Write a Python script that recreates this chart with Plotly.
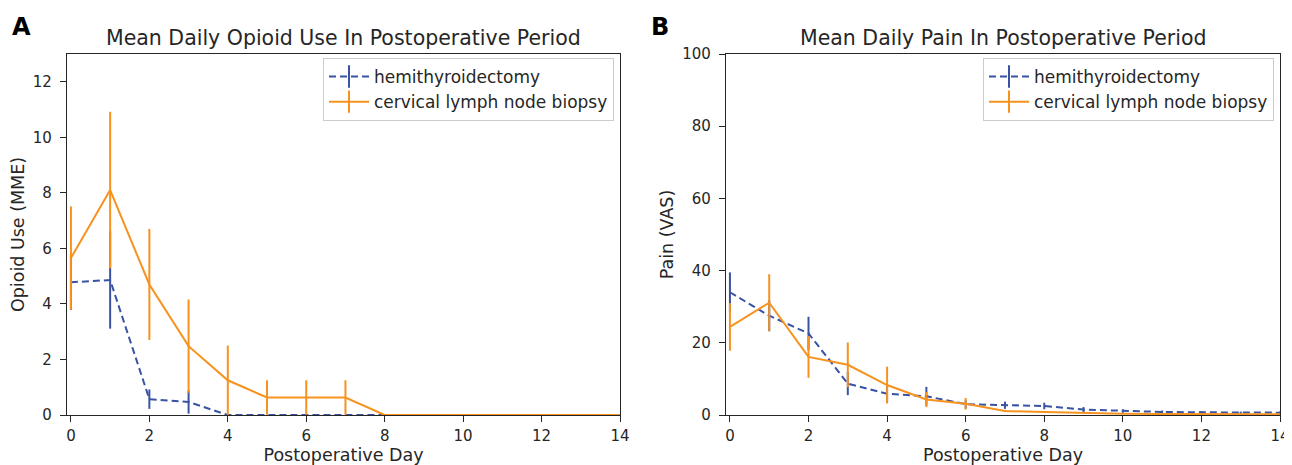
import plotly.graph_objects as go

# ---------------- data ----------------
days = list(range(0, 15))

opioid_hemi = [4.78, 4.86, 0.57, 0.47, 0, 0, 0, 0, 0, 0, 0, 0, 0, 0, 0]
opioid_hemi_err = [1.0, 1.75, 0.35, 0.42, 0, 0, 0, 0, 0, 0, 0, 0, 0, 0, 0]
opioid_cln = [5.65, 8.1, 4.7, 2.48, 1.25, 0.63, 0.63, 0.63, 0, 0, 0, 0, 0, 0, 0]
opioid_cln_err = [1.86, 2.82, 2.0, 1.68, 1.25, 0.62, 0.62, 0.62, 0, 0, 0, 0, 0, 0, 0]

pain_hemi = [34.0, 27.5, 22.6, 8.7, 5.9, 5.2, 3.0, 2.7, 2.5, 1.5, 1.1, 0.85, 0.75, 0.65, 0.65]
pain_hemi_err = [5.5, 4.3, 4.6, 3.2, 2.5, 2.6, 1.2, 1.0, 0.9, 0.7, 0.5, 0.4, 0.3, 0.3, 0.3]
pain_cln = [24.4, 31.1, 16.1, 13.9, 8.3, 4.3, 3.1, 1.1, 0.8, 0.5, 0.35, 0.3, 0.25, 0.2, 0.2]
pain_cln_err = [6.6, 7.9, 5.8, 6.2, 5.1, 2.1, 1.6, 0.3, 0.2, 0.1, 0.1, 0.1, 0.1, 0.1, 0.1]

series_names = ["hemithyroidectomy", "cervical lymph node biopsy"]
titles = ["Mean Daily Opioid Use In Postoperative Period", "Mean Daily Pain In Postoperative Period"]
x_label = "Postoperative Day"
y_labels = ["Opioid Use (MME)", "Pain (VAS)"]
panel_letters = ["A", "B"]

# ---------------- styling ----------------
OFF = 8                      # page body margin
W, H = 1292 - OFF, 465 - OFF
BLUE = "#3953A4"
ORANGE = "#F7921E"
TXT = "#262626"
FONT = "DejaVu Sans"


def px_x(p):
    return (p - OFF) / W


def px_y(p):
    return 1 - (p - OFF) / H


fig = go.Figure()

panels = [
    ("x", "y", opioid_hemi, opioid_hemi_err, opioid_cln, opioid_cln_err, "legend"),
    ("x2", "y2", pain_hemi, pain_hemi_err, pain_cln, pain_cln_err, "legend2"),
]

for xa, ya, h, he, c, ce, leg in panels:
    fig.add_trace(go.Scatter(
        x=days, y=h, xaxis=xa, yaxis=ya, mode="lines",
        line=dict(color=BLUE, width=2, dash="7px,4px"),
        error_y=dict(type="data", array=he, visible=True, color=BLUE, thickness=2, width=0),
        showlegend=False, name=series_names[0]))
    fig.add_trace(go.Scatter(
        x=days, y=c, xaxis=xa, yaxis=ya, mode="lines",
        line=dict(color=ORANGE, width=2),
        error_y=dict(type="data", array=ce, visible=True, color=ORANGE, thickness=2, width=0),
        showlegend=False, name=series_names[1]))
    # legend entries (line with errorbar tick)
    for name, col, dash in [(series_names[0], BLUE, "7px,4px"), (series_names[1], ORANGE, "solid")]:
        fig.add_trace(go.Scatter(
            x=[None], y=[None], xaxis=xa, yaxis=ya, mode="lines+markers", name=name,
            line=dict(color=col, width=2, dash=dash),
            marker=dict(symbol="line-ns-open", size=16, color=col, line=dict(color=col, width=2)),
            showlegend=True, legend=leg))

axis_common = dict(
    showline=True, linecolor=TXT, linewidth=1.2, mirror=True,
    ticks="outside", ticklen=6, tickwidth=1.2, tickcolor=TXT,
    showgrid=False, zeroline=False, automargin=False,
    tickfont=dict(family=FONT, size=15, color=TXT), layer="below traces",
)
label_font = dict(family=FONT, size=17.5, color=TXT)

xdom1 = [px_x(67), px_x(620)]
xdom2 = [px_x(726), px_x(1280)]
ydom = [px_y(415), px_y(54)]

legend_common = dict(xanchor="right", yanchor="top",
                     bgcolor="rgba(255,255,255,0.8)", bordercolor="#cccccc", borderwidth=1,
                     font=dict(family=FONT, size=17, color=TXT), itemwidth=40, tracegroupgap=0)

fig.update_layout(
    width=W, height=H,
    margin=dict(l=0, r=0, t=0, b=0),
    paper_bgcolor="white", plot_bgcolor="white",
    font=dict(family=FONT, color=TXT),
    xaxis=dict(domain=xdom1, range=[-0.1, 14], tickvals=list(range(0, 15, 2)), anchor="y",
               ticklabelstandoff=1, title=dict(text=x_label, font=label_font, standoff=8), **axis_common),
    yaxis=dict(domain=ydom, range=[0, 13], tickvals=list(range(0, 13, 2)), anchor="x",
               ticklabelstandoff=5, title=dict(text=y_labels[0], font=label_font, standoff=4), **axis_common),
    xaxis2=dict(domain=xdom2, range=[-0.1, 14], tickvals=list(range(0, 15, 2)), anchor="y2",
                ticklabelstandoff=1, title=dict(text=x_label, font=label_font, standoff=8), **axis_common),
    yaxis2=dict(domain=ydom, range=[0, 100], tickvals=list(range(0, 101, 20)), anchor="x2",
                ticklabelstandoff=5, title=dict(text=y_labels[1], font=label_font, standoff=4), **axis_common),
    legend=dict(x=px_x(614), y=px_y(58), **legend_common),
    legend2=dict(x=px_x(1274), y=px_y(58), **legend_common),
)

annotations = []
for i, (cx, lx) in enumerate([((67 + 620) / 2, 21.5), ((726 + 1280) / 2, 660)]):
    annotations.append(dict(text=titles[i], x=px_x(cx), y=px_y(38), xref="paper", yref="paper",
                            xanchor="center", yanchor="middle", showarrow=False,
                            font=dict(family=FONT, size=20.5, color=TXT)))
    annotations.append(dict(text="<b>" + panel_letters[i] + "</b>", x=px_x(lx), y=px_y(27), xref="paper",
                            yref="paper", xanchor="center", yanchor="middle", showarrow=False,
                            font=dict(family=FONT, size=24, color="black")))
fig.update_layout(annotations=annotations)

fig.write_html("out.html")
